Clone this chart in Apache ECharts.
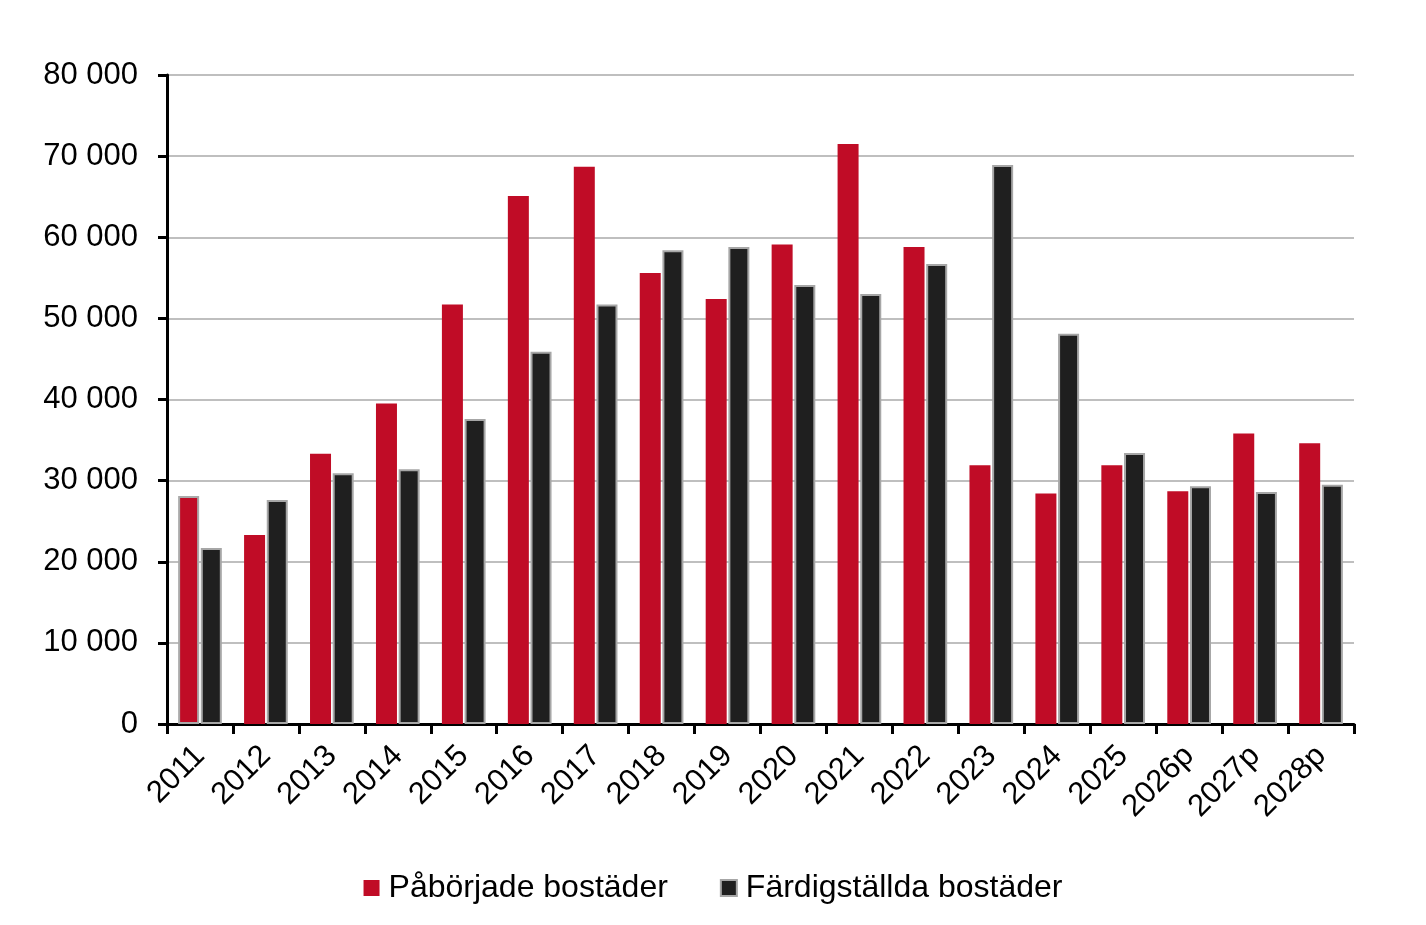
<!DOCTYPE html>
<html>
<head>
<meta charset="utf-8">
<script src="https://cdn.jsdelivr.net/npm/echarts@6/dist/echarts.min.js"></script>
<style>
  html, body { margin: 0; padding: 0; background: #fff; }
  #chart { width: 1426px; height: 925px; }
</style>
</head>
<body>
<div id="chart"></div>
<script>
const years = ['2011', '2012', '2013', '2014', '2015', '2016', '2017', '2018', '2019',
  '2020', '2021', '2022', '2023', '2024', '2025', '2026p', '2027p', '2028p']
const paborjade = [28100, 23300, 33300, 39500, 51700, 65100, 68700, 55600, 52400,
  59100, 71500, 58800, 31900, 28400, 31900, 28700, 35800, 34600]
const fardigstallda = [21700, 27600, 30900, 31400, 37600, 45900, 51700, 58400, 58800,
  54100, 53000, 56700, 68900, 48100, 33400, 29300, 28600, 29500]
const yTicks = [0, 10000, 20000, 30000, 40000, 50000, 60000, 70000, 80000]

const chart = echarts.init(document.getElementById('chart'))

// tusental med mellanslag
const fmt = v => String(v).replace(/\B(?=(\d{3})+(?!\d))/g, ' ')

const font = 'Liberation Sans, Arial, sans-serif'

chart.setOption({
  animation: false,
  textStyle: { fontFamily: font },
  grid: { left: 167, right: 72, top: 75, bottom: 201, containLabel: false },
  legend: {
    top: 867,
    left: 'center',
    itemWidth: 16,
    itemHeight: 16,
    itemGap: 52,
    textStyle: { fontSize: 32, color: '#000', fontFamily: font, padding: [0, 0, 0, 4] },
    data: [
      { name: 'Påbörjade bostäder', icon: 'rect' },
      { name: 'Färdigställda bostäder', icon: 'rect' }
    ]
  },
  xAxis: {
    type: 'category',
    data: years,
    axisLine: { lineStyle: { color: '#000', width: 3 } },
    axisTick: { show: true, length: 10, lineStyle: { color: '#000', width: 3 } },
    axisLabel: {
      color: '#000',
      fontSize: 31,
      rotate: 45,
      margin: 27,
      interval: 0
    }
  },
  yAxis: {
    type: 'value',
    min: yTicks[0],
    max: yTicks[yTicks.length - 1],
    interval: 10000,
    axisLine: { show: true, lineStyle: { color: '#000', width: 3 } },
    axisTick: { show: true, length: 9, lineStyle: { color: '#000', width: 3 } },
    axisLabel: { color: '#000', fontSize: 31, margin: 29, formatter: fmt },
    splitLine: { lineStyle: { color: '#bfbfbf', width: 2 } }
  },
  series: [
    {
      name: 'Påbörjade bostäder',
      type: 'bar',
      barWidth: 21,
      barGap: '8%',
      itemStyle: { color: '#c00c26' },
      data: paborjade.map((v, i) => i === 0
        ? { value: v, itemStyle: { borderColor: '#aaaaaa', borderWidth: 2 } }
        : v)
    },
    {
      name: 'Färdigställda bostäder',
      type: 'bar',
      barWidth: 21,
      itemStyle: { color: '#1f1f1f', borderColor: '#a6a6a6', borderWidth: 2 },
      data: fardigstallda
    }
  ]
})
</script>
</body>
</html>
